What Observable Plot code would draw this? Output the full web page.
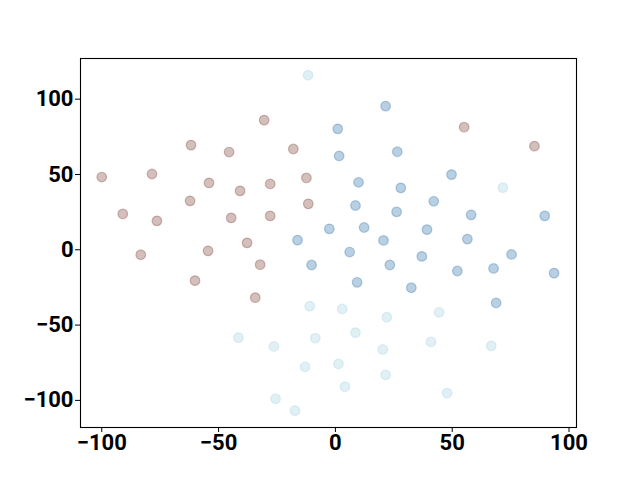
<!DOCTYPE html>
<html>
<head>
<meta charset="utf-8">
<script src="https://cdn.jsdelivr.net/npm/d3@7"></script>
<script src="https://cdn.jsdelivr.net/npm/@observablehq/plot@0.6"></script>
<style>
  html, body { margin: 0; padding: 0; background: white; }
</style>
</head>
<body>
<div id="chart"></div>
<script>
const brownPoints = [[-100,48.3],[-91,23.8],[-83.3,-3.3],[-78.5,50.3],[-76.4,19.2],[-61.8,69.5],[-62.2,32.5],[-60.1,-20.5],[-54.1,44.4],[-54.5,-0.7],[-45.5,64.9],[-44.6,21.2],[-40.8,39.1],[-37.8,4.6],[-34.3,-31.8],[-32.2,-9.9],[-30.5,86.1],[-27.9,43.7],[-27.9,22.5],[-18,66.9],[-12.4,47.7],[-11.6,30.5],[55.1,81.4],[85.2,68.8]];
const bluePoints = [[-16.2,6.4],[-2.6,13.9],[-10.2,-10.1],[21.5,95.4],[1,80.3],[1.6,62.3],[26.5,65.1],[49.7,49.9],[9.9,44.8],[28,41.1],[8.6,29.4],[42.1,32.2],[26.2,25.2],[58.1,23.2],[89.6,22.5],[12.3,14.8],[20.6,6.2],[39.2,13.4],[56.5,7.1],[6.1,-1.5],[23.3,-10.1],[37,-4.4],[75.4,-3.1],[52.2,-14.1],[67.7,-12.4],[93.6,-15.5],[9.3,-21.6],[32.5,-25.2],[68.8,-35.3]];
const cyanPoints = [[-11.7,115.9],[71.7,41.3],[-11,-37.5],[-41.5,-58.3],[-26.3,-64.2],[-8.6,-58.7],[-13,-77.7],[-25.6,-98.9],[-17.3,-106.8],[2.9,-39.3],[22,-44.8],[44.4,-41.5],[8.6,-55],[20.3,-66.2],[40.9,-61.1],[66.7,-63.8],[1.3,-75.7],[4.1,-90.9],[21.5,-83],[47.8,-95.2]];
const xTicks = [-100, -50, 0, 50, 100];
const yTicks = [-100, -50, 0, 50, 100];

const groups = [
  {pts: brownPoints, color: "#8c564b"},
  {pts: bluePoints, color: "#4682b4"},
  {pts: cyanPoints, color: "#add8e6"}
];

const dotMarks = groups.map(g => Plot.dot(g.pts, {
  x: d => d[0], y: d => d[1], r: 4.8,
  fill: g.color, fillOpacity: 0.38,
  stroke: g.color, strokeOpacity: 0.4, strokeWidth: 1.2
}));

const chart = Plot.plot({
  width: 640,
  height: 480,
  marginLeft: 80,
  marginRight: 64,
  marginTop: 58,
  marginBottom: 53,
  style: {fontFamily: "Roboto", fontSize: "22px", fontWeight: "bold", color: "black", background: "white"},
  x: {domain: [-109.1, 103.2], ticks: xTicks, label: null},
  y: {domain: [-118, 127], ticks: yTicks, label: null},
  marks: [
    ...dotMarks,
    Plot.frame({stroke: "black", strokeWidth: 1.1}),
    Plot.axisX({ticks: xTicks, tickSize: 5, tickPadding: 2, label: null, fontSize: 22, fontWeight: "bold", tickFormat: d => d3.format("d")(d)}),
    Plot.axisY({ticks: yTicks, tickSize: 5, tickPadding: 2, label: null, fontSize: 22, fontWeight: "bold", tickFormat: d => d3.format("d")(d)})
  ]
});
document.getElementById("chart").appendChild(chart);
</script>
</body>
</html>
